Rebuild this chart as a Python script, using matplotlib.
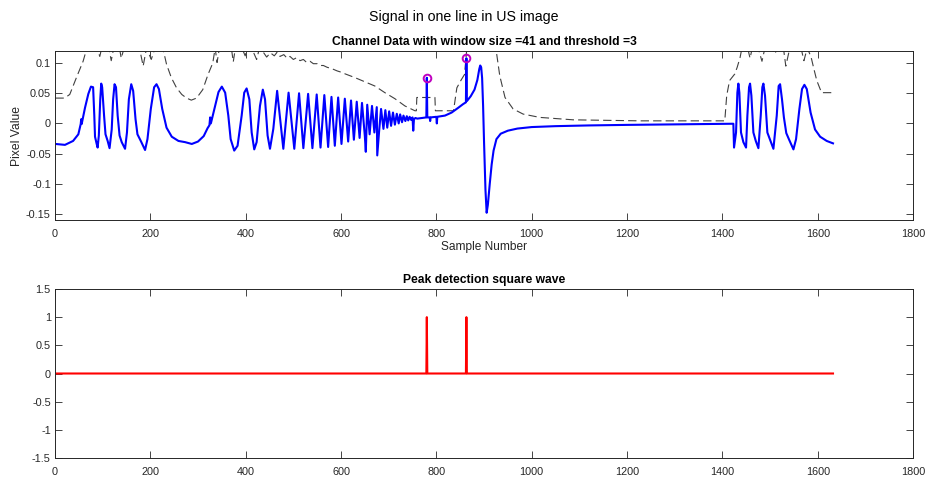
import numpy as np
import matplotlib.pyplot as plt
from matplotlib.ticker import FormatStrFormatter

plt.rcParams['font.family'] = ['Liberation Sans', 'DejaVu Sans']
plt.rcParams['lines.scale_dashes'] = False

# ---- data ----
n_samples = 1632
peak_idx = [780, 863]
peak_val = [0.0757, 0.108]

# first echo train
seg1_x = [1, 21, 38, 49, 54, 55, 56, 63, 70, 75.5, 80, 82.5, 84, 87.5, 89.5,
          92, 95, 97, 99, 103, 106, 110.5, 114.5, 119, 122, 125, 128, 131.5, 135.5, 140, 147,
          151, 155, 160, 164, 169, 173, 180, 189, 194, 201, 208, 213, 218, 225, 234, 245,
          259, 273, 287, 300, 312, 320, 324, 325.5, 327, 336, 343]
seg1_y = [-0.034, -0.0355, -0.029, -0.018, -0.001, 0.007, -0.001, 0.026, 0.049, 0.061, 0.060, 0.013, -0.022, -0.034, -0.040,
          -0.020, 0.040, 0.066, 0.060, 0.013, -0.018, -0.029, -0.041, -0.010, 0.040, 0.065, 0.060, 0.013, -0.020, -0.031, -0.042,
          -0.015, 0.040, 0.065, 0.054, 0.007, -0.018, -0.029, -0.044, -0.026, 0.024, 0.060, 0.065, 0.057, 0.024, -0.007, -0.022,
          -0.029, -0.031, -0.034, -0.030, -0.021, -0.008, -0.003, 0.010, 0.000, 0.029, 0.052]

# chirp part: peaks, troughs, shoulders and single-sample spikes
chirp_peak_x = [350, 402, 436, 466, 490, 512, 531, 549, 565, 580, 594, 608, 621, 633, 644,
                655, 665, 675, 684, 693, 701, 709, 717, 724, 731, 738, 744, 750, 756]
chirp_peak_y = [0.061, 0.058, 0.056, 0.054, 0.051, 0.050, 0.049, 0.048, 0.047, 0.044, 0.043, 0.041, 0.038, 0.036, 0.034,
                0.031, 0.029, 0.027, 0.024, 0.022, 0.020, 0.018, 0.016, 0.015, 0.013, 0.012, 0.011, 0.010, 0.009]
chirp_trough_x = [376, 418, 451, 479, 502, 521, 540, 557, 573, 587, 601, 615, 627, 639,
                  650, 660, 670, 680, 689, 697, 705, 713, 721, 728, 735, 741, 747, 753]
chirp_trough_y = [-0.045, -0.043, -0.042, -0.042, -0.042, -0.041, -0.041, -0.040, -0.039, -0.037, -0.034, -0.030, -0.027, -0.024,
                  -0.021, -0.018, -0.015, -0.012, -0.009, -0.007, -0.004, -0.002, 0.000, 0.002, 0.004, 0.005, 0.006, 0.007]
shoulder_x = [357, 363.6, 368.5, 383, 391.6, 397, 407.7, 412.6, 423, 430, 440.6, 446, 458]
shoulder_y = [0.051, 0.013, -0.026, -0.037, 0.013, 0.051, 0.040, -0.015, -0.031, 0.029, 0.040, -0.020, -0.009]
spike_x = [652, 676, 751.5]
spike_y = [-0.047, -0.053, -0.012]

# detected peaks, wall echo and long tail
seg2_x = [760, 770, 779, 780, 781, 786, 787, 788, 800, 801,
          802, 818, 832, 846, 856, 862, 863, 864, 872, 880,
          886, 890, 892, 894, 896, 898, 900, 903, 905.5, 908,
          912, 916, 920, 926, 935, 950, 970, 1000, 1050, 1120,
          1200, 1300, 1423]
seg2_y = [0.008, 0.009, 0.010, 0.0757, 0.010, 0.010, 0.004, 0.010, 0.011, 0.000,
          0.011, 0.013, 0.018, 0.026, 0.032, 0.035, 0.108, 0.037, 0.045, 0.056,
          0.072, 0.090, 0.096, 0.093, 0.075, 0.030, -0.030, -0.110, -0.148, -0.135,
          -0.100, -0.068, -0.045, -0.026, -0.017, -0.012, -0.0085, -0.006, -0.0045, -0.0033,
          -0.0024, -0.0015, -0.0005]

# last echo train
seg3_x = [1424.4, 1428.6, 1431.4, 1433.5, 1435.6, 1439, 1444, 1449.6, 1452.4, 1455.9,
          1458, 1460.8, 1465, 1470, 1475.5, 1480.4, 1483.8, 1486, 1489.4, 1494.3,
          1500, 1507, 1514, 1518, 1521, 1525, 1529, 1534, 1540, 1549,
          1554.5, 1561.5, 1567, 1572, 1577, 1585, 1594.3, 1605, 1618.8, 1632]
seg3_y = [-0.040, -0.015, 0.051, 0.066, 0.051, -0.015, -0.031, -0.040, 0.013, 0.060,
          0.066, 0.046, -0.015, -0.029, -0.041, 0.013, 0.060, 0.066, 0.046, -0.015,
          -0.027, -0.042, 0.013, 0.062, 0.065, 0.040, 0.010, -0.016, -0.027, -0.043,
          -0.026, 0.024, 0.057, 0.064, 0.057, 0.018, -0.010, -0.022, -0.029, -0.033]

# threshold curve (dashed), goes above the axis top where clipped
thr_x = [1, 20, 31, 45, 59, 67, 76, 88, 94, 100, 110, 118, 124, 132, 139, 146, 158, 168, 178, 185,
         192, 202, 212, 224, 230, 234, 244, 255, 266, 276, 286, 297, 310, 321, 331, 336, 340, 346, 360, 370,
         374, 379, 392, 399, 404, 414, 423, 429, 437, 444, 452, 460, 466, 472, 480, 487, 493, 500, 507, 514,
         521, 528, 535, 542, 550, 556, 563, 571, 580, 592, 600, 609, 629, 650, 671, 692, 713, 734, 755, 758,
         759, 797, 798, 836, 843, 852, 859, 864, 880, 900, 920, 926, 933, 944, 961, 982, 1017, 1087, 1227, 1405,
         1409, 1415, 1426, 1431, 1437, 1441, 1450, 1458, 1464, 1475, 1483, 1490, 1500, 1510, 1518, 1528, 1533, 1540, 1550, 1565,
         1571, 1578, 1586, 1592, 1598, 1608, 1632]
thr_y = [0.042, 0.042, 0.048, 0.076, 0.103, 0.125, 0.135, 0.125, 0.111, 0.132, 0.138, 0.104, 0.128, 0.140, 0.108, 0.128, 0.125, 0.135, 0.122, 0.095,
         0.125, 0.106, 0.130, 0.130, 0.112, 0.098, 0.076, 0.059, 0.048, 0.042, 0.0386, 0.042, 0.056, 0.081, 0.100, 0.125, 0.101, 0.130, 0.135, 0.125,
         0.102, 0.128, 0.125, 0.112, 0.128, 0.122, 0.106, 0.125, 0.118, 0.110, 0.117, 0.112, 0.118, 0.111, 0.114, 0.108, 0.111, 0.106, 0.109, 0.104,
         0.106, 0.101, 0.103, 0.099, 0.099, 0.096, 0.096, 0.093, 0.091, 0.087, 0.085, 0.082, 0.076, 0.069, 0.062, 0.051, 0.041, 0.029, 0.021, 0.021,
         0.043, 0.043, 0.021, 0.021, 0.059, 0.072, 0.081, 0.125, 0.150, 0.150, 0.140, 0.118, 0.079, 0.043, 0.024, 0.0155, 0.010, 0.006, 0.0043, 0.0043,
         0.046, 0.071, 0.082, 0.093, 0.109, 0.125, 0.135, 0.108, 0.130, 0.125, 0.103, 0.128, 0.130, 0.115, 0.130, 0.125, 0.095, 0.120, 0.130, 0.125,
         0.104, 0.125, 0.110, 0.090, 0.071, 0.051, 0.051]

# ---- build the signal in sample order ----
sig_x = np.concatenate([seg1_x, chirp_peak_x, chirp_trough_x, shoulder_x, spike_x, seg2_x, seg3_x])
sig_y = np.concatenate([seg1_y, chirp_peak_y, chirp_trough_y, shoulder_y, spike_y, seg2_y, seg3_y])
order = np.argsort(sig_x, kind='stable')
sig_x = sig_x[order]
sig_y = sig_y[order]

# square wave from the detected peaks
samples = np.arange(1, n_samples + 1)
square = np.zeros(n_samples)
square[np.array(peak_idx) - 1] = 1


def matlab_axes(ax):
    for s in ax.spines.values():
        s.set_color('0.15')
        s.set_linewidth(0.7)
    ax.tick_params(direction='in', top=True, right=True, length=5, width=0.6,
                   colors='0.15', labelsize=7.8)
    ax.tick_params(axis='x', pad=6.3)
    ax.tick_params(axis='y', pad=3)
    ax.set_xlim(0, 1800)
    ax.set_xticks(np.arange(0, 1801, 200))


fig = plt.figure(figsize=(9.27, 4.79), dpi=100)
fig.suptitle('Signal in one line in US image', fontsize=10.2, y=0.98)

ax1 = fig.add_axes([0.0593, 0.5407, 0.9257, 0.3528])
ax1.plot(thr_x, thr_y, color='0.25', linewidth=0.8, dashes=(6, 3))
ax1.plot(sig_x, sig_y, color='b', linewidth=1.5)
ax1.plot(peak_idx, peak_val, 'o', color='m', markerfacecolor='none', markersize=5.5, markeredgewidth=1.4)
matlab_axes(ax1)
ax1.set_ylim(-0.16, 0.12)
ax1.set_yticks([-0.15, -0.1, -0.05, 0, 0.05, 0.1])
ax1.yaxis.set_major_formatter(FormatStrFormatter('%g'))
ax1.set_title('Channel Data with window size =41 and threshold =3', fontsize=8.7, fontweight='bold', pad=4)
ax1.set_xlabel('Sample Number', fontsize=8.6, color='0.15', labelpad=1.5)
ax1.set_ylabel('Pixel Value', fontsize=8.7, color='0.15', labelpad=2)

ax2 = fig.add_axes([0.0593, 0.0438, 0.9257, 0.3529])
ax2.plot(samples, square, color='r', linewidth=1.5)
matlab_axes(ax2)
ax2.set_ylim(-1.5, 1.5)
ax2.set_yticks(np.arange(-1.5, 1.51, 0.5))
ax2.yaxis.set_major_formatter(FormatStrFormatter('%g'))
ax2.set_title('Peak detection square wave', fontsize=8.7, fontweight='bold', pad=4)

fig.savefig('out.png', dpi=100)
